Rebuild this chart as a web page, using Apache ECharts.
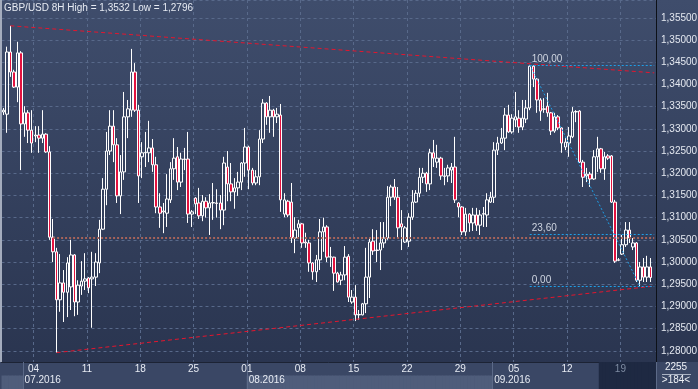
<!DOCTYPE html>
<html>
<head>
<meta charset="utf-8">
<script src="https://cdn.jsdelivr.net/npm/echarts@6.0.0/dist/echarts.min.js"></script>
<style>
html,body{margin:0;padding:0;overflow:hidden;background:#2a3550;}
#chart{width:698px;height:389px;background:linear-gradient(to bottom,#3f4d6c 0px,#2a3550 362px,#3a4765 362px,#3a4765 389px);}
</style>
</head>
<body>
<div id="chart"></div>
<script>
// ---- data (GBP/USD 8H candles) ----
const opens = [
1.3338,1.3333,1.3473,1.3428,1.3394,1.3471,1.3311,1.3336,1.3297,1.3284,
1.3286,1.3279,1.3288,1.3248,1.3056,1.3023,1.2915,1.2953,1.2932,1.2944,
1.3016,1.2910,1.2946,1.2957,1.2964,1.2962,1.2966,1.2998,1.3074,1.3164,
1.3250,1.3306,1.3264,1.3149,1.3203,1.3327,1.3342,1.3428,1.3342,1.3237,
1.3246,1.3246,1.3257,1.3219,1.3124,1.3113,1.3110,1.3140,1.3210,1.3237,
1.3180,1.3232,1.3232,1.3108,1.3144,1.3133,1.3104,1.3137,1.3122,1.3133,
1.3133,1.3133,1.3117,1.3214,1.3176,1.3158,1.3167,1.3180,1.3223,1.3259,
1.3207,1.3178,1.3192,1.3277,1.3358,1.3327,1.3342,1.3327,1.3331,1.3108,
1.3137,1.3135,1.3054,1.3077,1.3086,1.3045,1.3043,1.2998,1.2978,1.3005,
1.3068,1.3079,1.3011,1.3011,1.2975,1.2959,1.2971,1.3013,1.2910,1.2921,
1.2881,1.2881,1.2906,1.2966,1.3047,1.3027,1.3027,1.3043,1.3054,1.3146,
1.3169,1.3146,1.3086,1.3045,1.3047,1.3101,1.3135,1.3155,1.3191,1.3200,
1.3176,1.3246,1.3225,1.3234,1.3194,1.3194,1.3207,1.3214,1.3133,1.3124,
1.3068,1.3108,1.3088,1.3106,1.3083,1.3108,1.3106,1.3135,1.3146,1.3252,
1.3268,1.3279,1.3331,1.3293,1.3320,1.3324,1.3304,1.3322,1.3347,1.3441,
1.3412,1.3365,1.3345,1.3351,1.3336,1.3295,1.3327,1.3302,1.3259,1.3268,
1.3282,1.3338,1.3340,1.3225,1.3194,1.3198,1.3187,1.3237,1.3255,1.3210,
1.3239,1.3239,1.3135,1.3005,1.3018,1.3039,1.3072,1.3034,1.3043,1.2959,
1.2989,1.2966,1.2989];
const closes = [
1.3342,1.3473,1.3428,1.3394,1.3471,1.3311,1.3336,1.3297,1.3268,1.3286,
1.3279,1.3288,1.3248,1.3056,1.3023,1.2915,1.2953,1.2932,1.2998,1.3016,
1.2910,1.2948,1.2957,1.2962,1.2942,1.2966,1.3000,1.3074,1.3164,1.3250,
1.3306,1.3264,1.3149,1.3203,1.3327,1.3345,1.3428,1.3342,1.3194,1.3246,
1.3247,1.3257,1.3219,1.3124,1.3110,1.3115,1.3142,1.3210,1.3234,1.3180,
1.3232,1.3231,1.3108,1.3113,1.3131,1.3104,1.3137,1.3122,1.3133,1.3134,
1.3132,1.3117,1.3223,1.3176,1.3158,1.3167,1.3180,1.3223,1.3259,1.3207,
1.3178,1.3192,1.3277,1.3358,1.3327,1.3342,1.3327,1.3333,1.3140,1.3140,
1.3106,1.3054,1.3072,1.3086,1.3043,1.3043,1.2998,1.2978,1.3005,1.3068,
1.3079,1.3011,1.3012,1.2975,1.2955,1.2971,1.3011,1.2921,1.2921,1.2881,
1.2882,1.2906,1.2966,1.3045,1.3025,1.3026,1.3043,1.3054,1.3146,1.3169,
1.3146,1.3077,1.3079,1.3077,1.3101,1.3135,1.3155,1.3191,1.3200,1.3176,
1.3246,1.3234,1.3234,1.3194,1.3193,1.3212,1.3214,1.3140,1.3124,1.3068,
1.3108,1.3088,1.3106,1.3083,1.3106,1.3109,1.3140,1.3146,1.3252,1.3268,
1.3279,1.3331,1.3293,1.3324,1.3327,1.3304,1.3324,1.3347,1.3441,1.3412,
1.3365,1.3340,1.3344,1.3336,1.3295,1.3327,1.3302,1.3268,1.3270,1.3284,
1.3338,1.3339,1.3225,1.3191,1.3198,1.3187,1.3237,1.3255,1.3210,1.3237,
1.3234,1.3135,1.3002,1.3004,1.3039,1.3072,1.3054,1.3043,1.2959,1.2989,
1.2966,1.2989,1.2965];
const lows = [
1.3331,1.3291,1.3417,1.3392,1.3360,1.3207,1.3282,1.3268,1.3246,1.3270,
1.3246,1.3268,1.3246,1.3050,1.3000,1.2796,1.2888,1.2865,1.2876,1.2892,
1.2878,1.2881,1.2926,1.2937,1.2930,1.2852,1.2946,1.2975,1.3072,1.3128,
1.3241,1.3225,1.3133,1.3108,1.3185,1.3279,1.3327,1.3338,1.3133,1.3189,
1.3214,1.3225,1.3203,1.3110,1.3077,1.3065,1.3079,1.3133,1.3185,1.3162,
1.3169,1.3207,1.3088,1.3079,1.3108,1.3097,1.3092,1.3100,1.3061,1.3095,
1.3100,1.3074,1.3083,1.3137,1.3137,1.3120,1.3149,1.3162,1.3192,1.3164,
1.3173,1.3173,1.3173,1.3268,1.3309,1.3291,1.3282,1.3313,1.3113,1.3101,
1.3101,1.3043,1.3020,1.3056,1.3032,1.3032,1.2978,1.2960,1.2955,1.2982,
1.3023,1.3000,1.2989,1.2935,1.2954,1.2948,1.2959,1.2910,1.2906,1.2867,
1.2870,1.2880,1.2885,1.2919,1.3016,1.3000,1.2982,1.3032,1.3050,1.3126,
1.3140,1.3054,1.3027,1.3043,1.3034,1.3095,1.3133,1.3146,1.3178,1.3158,
1.3162,1.3214,1.3212,1.3185,1.3173,1.3180,1.3178,1.3133,1.3101,1.3061,
1.3059,1.3068,1.3070,1.3070,1.3061,1.3079,1.3079,1.3133,1.3133,1.3241,
1.3266,1.3252,1.3291,1.3289,1.3304,1.3291,1.3297,1.3313,1.3342,1.3394,
1.3336,1.3318,1.3336,1.3327,1.3286,1.3291,1.3297,1.3246,1.3252,1.3237,
1.3279,1.3315,1.3223,1.3169,1.3180,1.3169,1.3185,1.3203,1.3201,1.3185,
1.3230,1.3133,1.2998,1.3002,1.3016,1.3034,1.3043,1.3027,1.2955,1.29455,
1.2955,1.2955,1.2955];
const highs = [
1.3347,1.3485,1.3532,1.3433,1.3496,1.3475,1.3351,1.3342,1.3342,1.3306,
1.3306,1.3342,1.3290,1.3261,1.3097,1.3032,1.3018,1.2982,1.3011,1.3050,
1.3018,1.2959,1.3002,1.3020,1.2966,1.3023,1.3020,1.3095,1.3189,1.3293,
1.3342,1.3342,1.3279,1.3241,1.3383,1.3365,1.3480,1.3448,1.3354,1.3270,
1.3293,1.3318,1.3277,1.3237,1.3155,1.3133,1.3198,1.3225,1.3279,1.3259,
1.3246,1.3257,1.3293,1.3117,1.3146,1.3167,1.3151,1.3146,1.3153,1.3178,
1.3164,1.3151,1.3237,1.3250,1.3223,1.3189,1.3203,1.3225,1.3302,1.3262,
1.3212,1.3207,1.3297,1.3367,1.3360,1.3374,1.3345,1.3347,1.3356,1.3155,
1.3140,1.3178,1.3101,1.3095,1.3088,1.3066,1.3050,1.3000,1.3016,1.3097,
1.3100,1.3083,1.3034,1.3012,1.2978,1.2978,1.3036,1.3018,1.2937,1.2948,
1.2892,1.2908,1.3032,1.3054,1.3074,1.3072,1.3090,1.3090,1.3171,1.3174,
1.3187,1.3169,1.3117,1.3081,1.3110,1.3162,1.3162,1.3212,1.3212,1.3203,
1.3255,1.3275,1.3264,1.3237,1.3212,1.3219,1.3223,1.3282,1.3135,1.3126,
1.3122,1.3110,1.3122,1.3122,1.3117,1.3124,1.3155,1.3158,1.3270,1.3282,
1.3302,1.3347,1.3354,1.3333,1.3383,1.3342,1.3365,1.3365,1.3444,1.3443,
1.3414,1.3369,1.3369,1.3381,1.3338,1.3336,1.3331,1.3304,1.3279,1.3304,
1.3349,1.3342,1.3342,1.3230,1.3212,1.3203,1.3252,1.3282,1.3257,1.3248,
1.3243,1.3241,1.3140,1.3009,1.3061,1.3090,1.3090,1.3054,1.3045,1.3000,
1.3009,1.3014,1.3009];

// chart annotations
const titleText = 'GBP/USD 8H High = 1,3532 Low = 1,2796';
const topTrend = [[2, 1.3532], [183, 1.3426]];
const bottomTrend = [[15, 1.2796], [183, 1.2946]];
const supportLine = {from: 14, to: 183, value: 1.3055};
const fibHigh = {index: 148, value: 1.3444};
const fibLow = {index: 179, value: 1.29455};
const fibLevels = [1.0, 0.236, 0.0];
const fibLabels = ['100,00', '23,60', '0,00'];
const currentPrice = 1.2965;
const barsOnScreen = '>184<';
const spreadText = '2255';

// categories: 8-hour bars, Mon-Fri, starting 29.06.2016 00:00
const barCount = 184;
const barDates = [];
(function(){
  let t = Date.UTC(2016, 5, 29, 0);
  while (barDates.length < barCount) {
    const d = new Date(t);
    const wd = d.getUTCDay();
    if (wd !== 0 && wd !== 6) barDates.push(d);
    t += 8 * 3600 * 1000;
  }
})();
const pad2 = n => (n < 10 ? '0' : '') + n;
const categories = barDates.map(d => d.getUTCFullYear() + '-' + pad2(d.getUTCMonth()+1) + '-' + pad2(d.getUTCDate()) + ' ' + pad2(d.getUTCHours()) + ':00');
const isWeekStart = i => barDates[i].getUTCDay() === 1 && barDates[i].getUTCHours() === 0;
const isMonthStart = i => i > 0 && barDates[i].getUTCMonth() !== barDates[i-1].getUTCMonth();
const lightMonths = [5, 7]; // June, August shaded in the lower strip row
const highlightFrom = 168;

const candleData = opens.map((o, i) => [o, closes[i], lows[i], highs[i]]);
while (candleData.length < barCount) candleData.push('-');

const FONT = "'Liberation Sans', Arial, sans-serif";
const FS = 10;
const fmt = v => v.toFixed(5).replace('.', ',');
const fibValue = p => fibLow.value + p * (fibHigh.value - fibLow.value);

const tagStyle = (bg) => ({
  show: true, position: 'end', distance: 4,
  backgroundColor: bg, color: '#151515', padding: [1, 3, 0, 3],
  borderRadius: 1, fontSize: FS, fontFamily: FONT
});

const markLines = [
  [{coord: topTrend[0], lineStyle: {color: '#e5162e', type: [4, 3], width: 1}}, {coord: topTrend[1]}],
  [{coord: bottomTrend[0], lineStyle: {color: '#e5162e', type: [4, 3], width: 1}}, {coord: bottomTrend[1]}],
  [{coord: [supportLine.from, supportLine.value], lineStyle: {color: '#a5635a', type: [2, 2], width: 2}}, {coord: [supportLine.to, supportLine.value]}],
  [{coord: [fibHigh.index, fibHigh.value], lineStyle: {color: '#1e9fe8', type: [2, 2], width: 1}}, {coord: [fibLow.index, fibLow.value]}]
];
fibLevels.forEach((p, k) => {
  const v = fibValue(p);
  markLines.push([
    {coord: [fibHigh.index, v], lineStyle: {color: '#1e9fe8', type: [2, 2], width: 1},
     label: {show: true, position: 'insideStartTop', distance: [2, 1], formatter: fibLabels[k], color: '#cfd5e0', fontSize: FS, fontFamily: FONT}},
    {coord: [barCount - 1, v]}
  ]);
});
const tags = [
  {value: fibHigh.value, bg: '#ebe6cb', dy: 0},
  {value: supportLine.value, bg: '#ebe6cb', dy: 0},
  {value: currentPrice, bg: '#b4b7bd', dy: -5},
  {value: fibLow.value, bg: '#ebe6cb', dy: -8}
];
tags.forEach(t => {
  const lab = tagStyle(t.bg);
  lab.formatter = fmt(t.value);
  lab.offset = [0, t.dy];
  markLines.push({yAxis: t.value, lineStyle: {opacity: 0}, label: lab});
});

const monthBand = barDates.map(d => (lightMonths.indexOf(d.getUTCMonth()) >= 0 ? 1 : '-'));
const weekBand = barDates.map((d, i) => (i >= highlightFrom ? 2 : '-'));

const chart = echarts.init(document.getElementById('chart'), null, {renderer: 'canvas'});
const gridL = 1.5, gridR = 42;
chart.setOption({
  animation: false,
  backgroundColor: 'transparent',
  textStyle: {fontFamily: FONT},
  title: {
    text: titleText, left: 4, top: 3, padding: 0,
    textStyle: {color: '#e6eaf2', fontSize: FS, fontWeight: 'normal', fontFamily: FONT}
  },
  grid: [
    {left: gridL, right: gridR, top: 0, height: 362, outerBoundsMode: 'none', containLabel: false},
    {left: gridL, right: gridR, top: 362, height: 27, outerBoundsMode: 'none', containLabel: false}
  ],
  xAxis: [
    {
      gridIndex: 0, type: 'category', data: categories, boundaryGap: true,
      axisLine: {show: true, lineStyle: {color: '#1c2334', width: 1}},
      axisTick: {show: false}, axisLabel: {show: false},
      splitLine: {show: true, interval: (i) => isWeekStart(i), lineStyle: {color: '#58698a', type: [3, 3], width: 1}}
    },
    {
      gridIndex: 1, type: 'category', data: categories, boundaryGap: true, position: 'top', z: 5,
      axisLine: {show: false}, axisTick: {show: false}, splitLine: {show: false},
      axisLabel: {
        show: true, inside: true, margin: 2, interval: (i) => isWeekStart(i),
        formatter: (v) => v.slice(8, 10), fontSize: FS, fontFamily: FONT,
        padding: [0, 3.6, 0, 0],
        color: (v, i) => (categories.indexOf(v) >= highlightFrom ? '#7f8ca3' : '#e8ecf4')
      }
    },
    {
      gridIndex: 1, type: 'category', data: categories, boundaryGap: true, position: 'bottom', z: 5,
      axisLine: {show: false}, axisTick: {show: false},
      splitLine: {show: true, interval: (i) => isMonthStart(i), lineStyle: {color: '#5c6a88', width: 1}},
      axisLabel: {
        show: true, inside: true, margin: 4, interval: (i) => isMonthStart(i), align: 'left',
        formatter: (v) => v.slice(5, 7) + '.' + v.slice(0, 4), fontSize: FS, fontFamily: FONT, color: '#e8ecf4'
      }
    }
  ],
  yAxis: [
    {
      gridIndex: 0, type: 'value', position: 'right', min: 1.27749, max: 1.35901, splitNumber: 16,
      axisLine: {show: true, lineStyle: {color: '#0d1118', width: 1}},
      axisTick: {show: false},
      axisLabel: {
        show: true, margin: 5, color: '#e4e8f0', fontSize: FS, fontFamily: FONT,
        showMinLabel: false, showMaxLabel: false,
        formatter: (v) => (Math.abs(v * 200 - Math.round(v * 200)) < 1e-6 ? fmt(v) : '')
      },
      splitLine: {show: true, lineStyle: {color: '#58698a', type: [3, 3], width: 1}}
    },
    {
      gridIndex: 1, type: 'value', position: 'right', min: 0, max: 2,
      axisLine: {show: true, lineStyle: {color: '#0d1118', width: 1}},
      axisTick: {show: false}, axisLabel: {show: false}, splitLine: {show: false}
    }
  ],
  graphic: [
    {type: 'rect', x: 0, y: 0, shape: {width: 2, height: 362}, style: {fill: '#a4acbd'}, z: 10},
    {type: 'text', x: 676, y: 367.5, style: {text: spreadText, fill: '#eef1f6', font: FS + 'px ' + FONT, align: 'center', verticalAlign: 'middle'}, z: 10},
    {type: 'line', shape: {x1: 662, y1: 374.5, x2: 691, y2: 374.5}, style: {stroke: '#aab3c4', lineWidth: 1}, z: 10},
    {type: 'text', x: 676, y: 380.5, style: {text: barsOnScreen, fill: '#eef1f6', font: FS + 'px ' + FONT, align: 'center', verticalAlign: 'middle'}, z: 10}
  ],
  series: [
    {
      type: 'candlestick', xAxisIndex: 0, yAxisIndex: 0, data: candleData,
      barWidth: 3,
      itemStyle: {color: 'rgba(0,0,0,0)', color0: '#e3123f', borderColor: '#ffffff', borderColor0: '#ffffff', borderColorDoji: '#ffffff', borderWidth: 1},
      markLine: {symbol: ['none', 'none'], silent: true, animation: false, label: {show: false}, data: markLines}
    },
    {
      type: 'bar', xAxisIndex: 1, yAxisIndex: 1, data: monthBand, silent: true, z: 1,
      barWidth: 4.2, itemStyle: {color: '#4f5d7b', borderWidth: 0}
    },
    {
      type: 'bar', xAxisIndex: 1, yAxisIndex: 1, data: weekBand, silent: true, z: 1,
      barWidth: 4.2, barGap: '-100%', itemStyle: {color: '#1e2942', borderWidth: 0}
    }
  ]
});
</script>
</body>
</html>
